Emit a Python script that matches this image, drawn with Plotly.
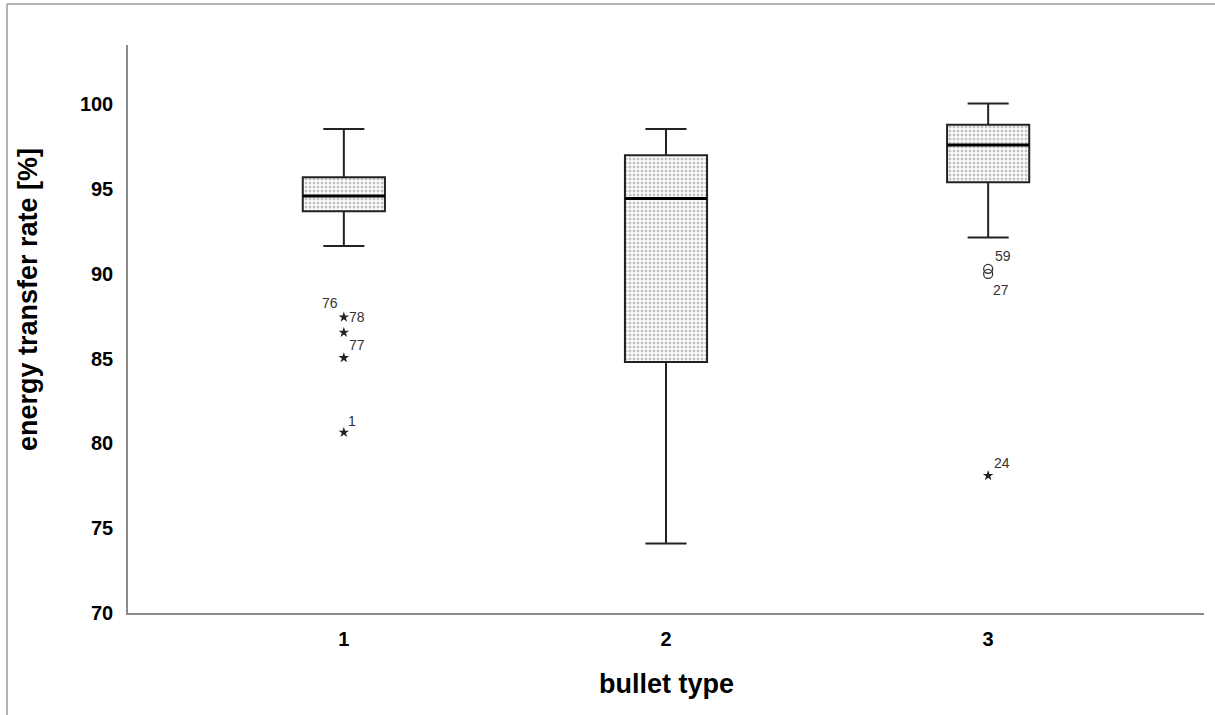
import plotly.graph_objects as go

# ---- data -------------------------------------------------------------
categories = [1, 2, 3]
upper_whisker = [98.55, 98.55, 100.05]
q3_values = [95.7, 97.0, 98.8]
median_values = [94.6, 94.45, 97.6]
q1_values = [93.7, 84.8, 95.4]
lower_whisker = [91.65, 74.1, 92.15]

# outliers
extreme_cat = [1, 1, 1, 1, 3]
extreme_val = [87.45, 86.55, 85.05, 80.65, 78.1]
mild_cat = [3, 3]
mild_val = [90.3, 90.0]

outlier_labels = ["76", "78", "77", "1", "59", "27", "24"]
label_cat = [1, 1, 1, 1, 3, 3, 3]
label_val = [87.45, 87.45, 85.05, 80.65, 90.15, 90.15, 78.1]
label_dx = [-14, 13, 13, 8, 15, 13, 14]
label_dy = [14, 0, 13, 11, 15, -19, 13]

y_ticks = [70, 75, 80, 85, 90, 95, 100]

# ---- layout constants -------------------------------------------------
W, H = 1215, 715
ML, MR, MT, MB = 128, 11, 45, 102
BOX_W = 0.255
FONT = "Liberation Sans, Arial, sans-serif"

pw = W - ML - MR
ph = H - MT - MB


def px_to_paper_x(px):
    return (px - ML) / pw


def px_to_paper_y(py):
    return (H - MB - py) / ph


fig = go.Figure()

# patterned box bodies
fig.add_trace(go.Bar(
    x=categories,
    y=[a - b for a, b in zip(q3_values, q1_values)],
    base=q1_values,
    width=BOX_W,
    marker=dict(
        color="white",
        line=dict(width=0),
        pattern=dict(shape=".", fgcolor="#858585", bgcolor="white",
                     size=4, solidity=0.45),
    ),
    hoverinfo="skip",
    showlegend=False,
))

# box outlines and whiskers
fig.add_trace(go.Box(
    x=categories,
    q1=q1_values,
    median=median_values,
    q3=q3_values,
    lowerfence=lower_whisker,
    upperfence=upper_whisker,
    width=BOX_W,
    whiskerwidth=0.5,
    fillcolor="rgba(0,0,0,0)",
    line=dict(color="#222222", width=2),
    boxpoints=False,
    hoverinfo="skip",
    showlegend=False,
))

# heavier median lines
mx, my = [], []
for c, m in zip(categories, median_values):
    mx += [c - BOX_W / 2, c + BOX_W / 2, None]
    my += [m, m, None]
fig.add_trace(go.Scatter(
    x=mx, y=my, mode="lines",
    line=dict(color="black", width=3),
    hoverinfo="skip", showlegend=False,
))

# extreme outliers (stars)
fig.add_trace(go.Scatter(
    x=extreme_cat, y=extreme_val, mode="markers",
    marker=dict(symbol="star", size=8, color="#222222",
                line=dict(width=0)),
    hoverinfo="skip", showlegend=False,
))

# mild outliers (open circles)
fig.add_trace(go.Scatter(
    x=mild_cat, y=mild_val, mode="markers",
    marker=dict(symbol="circle-open", size=9, color="#333333",
                line=dict(width=1.3)),
    hoverinfo="skip", showlegend=False,
))

# case labels next to outliers
for txt, c, v, dx, dy in zip(outlier_labels, label_cat, label_val,
                             label_dx, label_dy):
    fig.add_annotation(
        x=c, y=v, text=txt, showarrow=False,
        xshift=dx, yshift=dy,
        font=dict(family=FONT, size=14, color="#333333"),
    )

# axis titles
fig.add_annotation(
    xref="paper", yref="paper",
    x=px_to_paper_x(666), y=px_to_paper_y(684),
    text="<b>bullet type</b>", showarrow=False,
    xanchor="center", yanchor="middle",
    font=dict(family=FONT, size=27, color="black"),
)
fig.add_annotation(
    xref="paper", yref="paper",
    x=px_to_paper_x(28), y=px_to_paper_y(300),
    text="<b>energy transfer rate [%]</b>", showarrow=False,
    textangle=-90, xanchor="center", yanchor="middle",
    font=dict(family=FONT, size=27, color="black"),
)

# outer frame (top and left edges)
fig.add_shape(type="line", xref="paper", yref="paper",
              x0=px_to_paper_x(7), x1=px_to_paper_x(W + 5),
              y0=px_to_paper_y(4), y1=px_to_paper_y(4),
              line=dict(color="#9a9a9a", width=1.5))
fig.add_shape(type="line", xref="paper", yref="paper",
              x0=px_to_paper_x(7), x1=px_to_paper_x(7),
              y0=px_to_paper_y(4), y1=px_to_paper_y(H + 5),
              line=dict(color="#9a9a9a", width=1.5))

fig.update_layout(
    width=W, height=H,
    margin=dict(l=ML, r=MR, t=MT, b=MB, autoexpand=False),
    paper_bgcolor="white",
    plot_bgcolor="white",
    barmode="overlay",
    boxmode="overlay",
    showlegend=False,
    font=dict(family=FONT, color="black"),
    xaxis=dict(
        range=[0.33, 3.67],
        tickvals=categories,
        ticktext=[str(c) for c in categories],
        tickfont=dict(family=FONT, size=20, color="black", weight="bold"),
        showgrid=False, zeroline=False,
        showline=True, linecolor="#8a8a8a", linewidth=1.5,
        ticks="", ticklabelstandoff=7,
    ),
    yaxis=dict(
        range=[70, 103.5],
        tickvals=y_ticks,
        tickfont=dict(family=FONT, size=20, color="black", weight="bold"),
        showgrid=False, zeroline=False,
        showline=True, linecolor="#8a8a8a", linewidth=1.5,
        ticks="", ticklabelstandoff=9,
    ),
)

fig.write_html("out.html")
